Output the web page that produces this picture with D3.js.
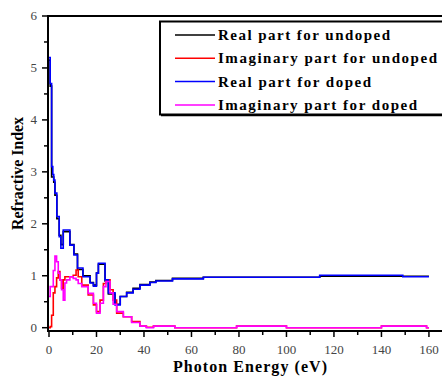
<!DOCTYPE html>
<html>
<head>
<meta charset="utf-8">
<script src="https://cdn.jsdelivr.net/npm/d3@7"></script>
<style>
  body { margin: 0; background: #fff; }
  svg { display: block; }
</style>
</head>
<body>
<div id="chart"></div>
<script>
// photon energy grid (eV) for the real parts
var energyReal = [0, 0.5, 1.1, 1.6, 2, 2.5, 3.3, 4.3, 5, 6, 7.4, 8.8, 10.5, 12, 14.3, 17.3, 18.7, 20, 20.8, 22.2, 23.6, 25, 27.8, 30, 32.7, 35.4, 38.3, 42.5, 45, 52, 65, 114, 149, 160];
var realUndoped = [5.15, 4.65, 2.9, 2.9, 2.8, 2.55, 2.1, 1.78, 1.6, 1.85, 1.85, 1.6, 1.42, 1.12, 1.0, 0.87, 0.82, 1.05, 1.22, 1.22, 0.9, 0.65, 0.45, 0.6, 0.68, 0.76, 0.83, 0.88, 0.91, 0.95, 0.97, 0.99, 0.99, 0.99];
var realDoped = [5.2, 4.7, 3.1, 2.95, 2.84, 2.59, 2.14, 1.75, 1.53, 1.88, 1.88, 1.59, 1.40, 1.15, 0.98, 0.86, 0.80, 1.05, 1.24, 1.24, 0.92, 0.67, 0.44, 0.6, 0.67, 0.74, 0.82, 0.87, 0.90, 0.94, 0.97, 1.01, 0.98, 0.98];

// photon energy grid (eV) for the imaginary parts
var energyImag = [0, 0.5, 1.1, 1.8, 2.5, 3.2, 3.9, 4.6, 5.3, 6, 6.7, 7.4, 8.8, 10.2, 11.4, 12.3, 13.8, 16.5, 18.7, 20, 21.5, 22.9, 24, 25.7, 27, 28.5, 31.3, 34.8, 38.3, 41, 44, 53, 79, 100, 140, 159, 160];
var imagUndoped = [0, 0.02, 0.24, 0.67, 0.79, 0.96, 1.08, 0.92, 0.76, 0.92, 0.98, 0.98, 0.98, 1.01, 1.11, 0.98, 0.82, 0.63, 0.44, 0.31, 0.53, 0.85, 0.92, 0.73, 0.53, 0.28, 0.21, 0.12, 0.03, 0.01, 0.03, 0.0, 0.03, 0.0, 0.03, 0.0, 0.0];
var imagDoped = [0.6, 0.79, 0.79, 1.1, 1.38, 1.27, 1.05, 0.92, 0.73, 0.53, 0.86, 0.92, 0.98, 0.95, 0.92, 0.85, 0.79, 0.66, 0.47, 0.28, 0.47, 0.79, 0.89, 0.67, 0.45, 0.31, 0.21, 0.1, 0.03, 0.0, 0.03, 0.0, 0.03, 0.0, 0.03, 0.0, 0.0];

var seriesNames = ["Real part for undoped", "Imaginary part for undoped", "Real part for doped", "Imaginary part for doped"];
var seriesColors = ["#000000", "#ff0000", "#0000ff", "#ff00ff"];
var xTicks = [0, 20, 40, 60, 80, 100, 120, 140, 160];
var yTicks = [0, 1, 2, 3, 4, 5, 6];

var W = 442, H = 378;
var serif = "'Liberation Serif', 'Times New Roman', serif";
var svg = d3.select("#chart").append("svg")
    .attr("width", W).attr("height", H);

var x = d3.scaleLinear().domain([0, 165.5]).range([49, 442]);
var y = d3.scaleLinear().domain([0, 6]).range([327.7, 16]);
var axisY = 331, axisX = 48;

var series = [
    {xs: energyReal, ys: realUndoped},
    {xs: energyImag, ys: imagUndoped},
    {xs: energyReal, ys: realDoped},
    {xs: energyImag, ys: imagDoped}
];

var line = d3.line()
    .x(function(d) { return x(d[0]); })
    .y(function(d) { return y(d[1]); })
    .curve(d3.curveStepAfter);

// curves
series.forEach(function(s, i) {
    var pts = s.xs.map(function(e, j) { return [e, s.ys[j]]; });
    svg.append("path")
        .attr("d", line(pts))
        .attr("fill", "none")
        .attr("stroke", seriesColors[i])
        .attr("stroke-width", 1.6);
});

// top frame line
svg.append("line")
    .attr("x1", axisX).attr("x2", W)
    .attr("y1", y(6)).attr("y2", y(6))
    .attr("stroke", "#000").attr("stroke-width", 2);

// X axis
var xAxis = svg.append("g")
    .attr("transform", "translate(0," + axisY + ")");
xAxis.append("line")
    .attr("x1", axisX - 1).attr("x2", W)
    .attr("stroke", "#000").attr("stroke-width", 2);
d3.range(0, 170, 10).forEach(function(v) {
    xAxis.append("line")
        .attr("x1", x(v)).attr("x2", x(v))
        .attr("y1", 0).attr("y2", v % 20 === 0 ? 6 : 4)
        .attr("stroke", "#000").attr("stroke-width", 1.5);
});
xAxis.selectAll("text.tick")
    .data(xTicks)
    .enter()
    .append("text")
    .attr("x", function(d) { return x(d); })
    .attr("y", 23)
    .attr("text-anchor", "middle")
    .style("font-family", serif)
    .style("font-size", "13px")
    .style("fill", "#444")
    .text(function(d) { return d; });

// Y axis
var yAxis = svg.append("g")
    .attr("transform", "translate(" + axisX + ",0)");
yAxis.append("line")
    .attr("y1", y(6) - 1).attr("y2", axisY + 1)
    .attr("stroke", "#000").attr("stroke-width", 2);
d3.range(0, 6.01, 0.5).forEach(function(v) {
    yAxis.append("line")
        .attr("y1", y(v)).attr("y2", y(v))
        .attr("x1", 0).attr("x2", v % 1 === 0 ? -6 : -4)
        .attr("stroke", "#000").attr("stroke-width", 1.5);
});
yAxis.selectAll("text.tick")
    .data(yTicks)
    .enter()
    .append("text")
    .attr("x", -11)
    .attr("y", function(d) { return y(d) + 4; })
    .attr("text-anchor", "end")
    .style("font-family", serif)
    .style("font-size", "13px")
    .style("fill", "#444")
    .text(function(d) { return d; });

// axis titles
svg.append("text")
    .attr("x", 173).attr("y", 372)
    .attr("textLength", 154)
    .attr("lengthAdjust", "spacing")
    .style("font-family", serif)
    .style("font-weight", "bold")
    .style("font-size", "16px")
    .text("Photon Energy (eV)");

svg.append("text")
    .attr("transform", "translate(23,230) rotate(-90)")
    .attr("textLength", 113)
    .attr("lengthAdjust", "spacing")
    .style("font-family", serif)
    .style("font-weight", "bold")
    .style("font-size", "16px")
    .text("Refractive Index");

// legend
var legend = svg.append("g");
legend.append("rect")
    .attr("x", 160).attr("y", 21.5)
    .attr("width", 300).attr("height", 93)
    .attr("fill", "#fff")
    .attr("stroke", "#000").attr("stroke-width", 2);
legend.append("line")
    .attr("x1", 161).attr("x2", W)
    .attr("y1", 115.5).attr("y2", 115.5)
    .attr("stroke", "#000").attr("stroke-width", 1.5);

var legendWidths = [172, 219, 153, 199];
seriesNames.forEach(function(name, i) {
    var ly = 35 + i * 23.3;
    legend.append("line")
        .attr("x1", 175).attr("x2", 215)
        .attr("y1", ly).attr("y2", ly)
        .attr("stroke", seriesColors[i]).attr("stroke-width", 1.5);
    legend.append("text")
        .attr("x", 218).attr("y", ly + 5)
        .attr("textLength", legendWidths[i])
        .attr("lengthAdjust", "spacing")
        .style("font-family", serif)
        .style("font-weight", "bold")
        .style("font-size", "15px")
        .text(name);
});
</script>
</body>
</html>
